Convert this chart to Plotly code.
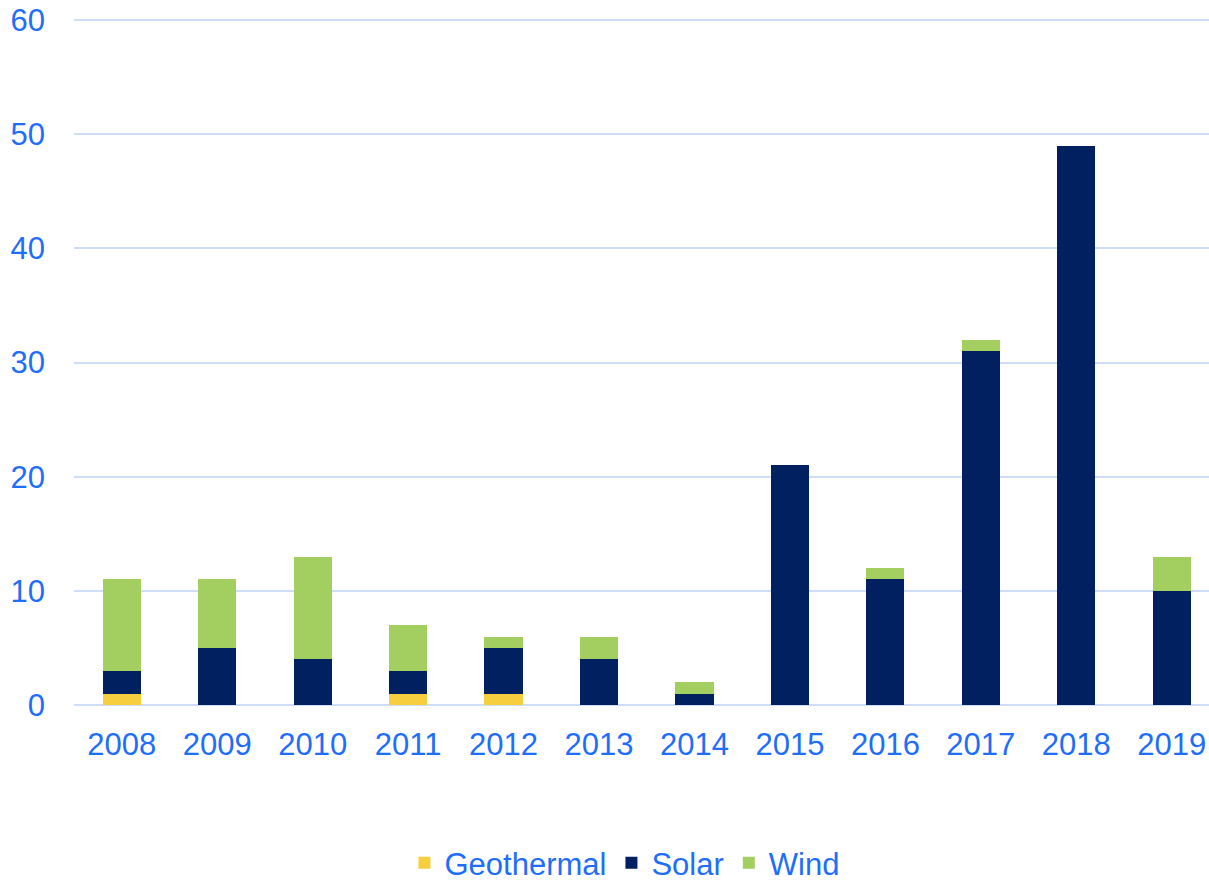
import plotly.graph_objects as go

years = ["2008", "2009", "2010", "2011", "2012", "2013", "2014", "2015", "2016", "2017", "2018", "2019"]
geothermal = [1, 0, 0, 1, 1, 0, 0, 0, 0, 0, 0, 0]
solar = [2, 5, 4, 2, 4, 4, 1, 21, 11, 31, 49, 10]
wind = [8, 6, 9, 4, 1, 2, 1, 0, 1, 1, 0, 3]
y_ticks = [0, 10, 20, 30, 40, 50, 60]

blue_text = "#1E6EFA"
fig = go.Figure()
for name, vals, col in [("Geothermal", geothermal, "#F7CE3E"),
                        ("Solar", solar, "#002060"),
                        ("Wind", wind, "#A3CE60")]:
    fig.add_trace(go.Bar(x=years, y=vals, name=name, marker_color=col,
                         marker_line_width=0, width=0.4))

fig.update_layout(
    barmode="stack",
    width=1209, height=881,
    margin=dict(l=74, r=0, t=19, b=176, autoexpand=False),
    plot_bgcolor="white", paper_bgcolor="white",
    font=dict(family="Liberation Sans, Arial, sans-serif", size=31, color=blue_text),
    showlegend=True,
    legend=dict(orientation="h", x=0.485, xanchor="center", y=-0.2303, yanchor="middle",
                font=dict(size=31, color=blue_text), traceorder="normal"),
    xaxis=dict(type="category", range=[-0.5, 11.39], showgrid=False, ticks="",
               tickfont=dict(size=31, color=blue_text), showline=False,
               automargin=False, ticklabelstandoff=18, ticklabeloverflow="allow"),
    yaxis=dict(range=[0, 60.1], tickvals=y_ticks, showgrid=True, gridcolor="#D0DDF7",
               gridwidth=1.5, zeroline=True, zerolinecolor="#D0DDF7", zerolinewidth=1.5,
               tickfont=dict(size=31, color=blue_text), ticks="", ticklabelstandoff=28,
               automargin=False, ticklabeloverflow="allow"),
)
fig.write_html(
    "out.html",
    config={"displayModeBar": False},
    post_script="document.body.style.margin='0';document.body.style.overflow='hidden';"
                "document.documentElement.style.overflow='hidden';",
)
